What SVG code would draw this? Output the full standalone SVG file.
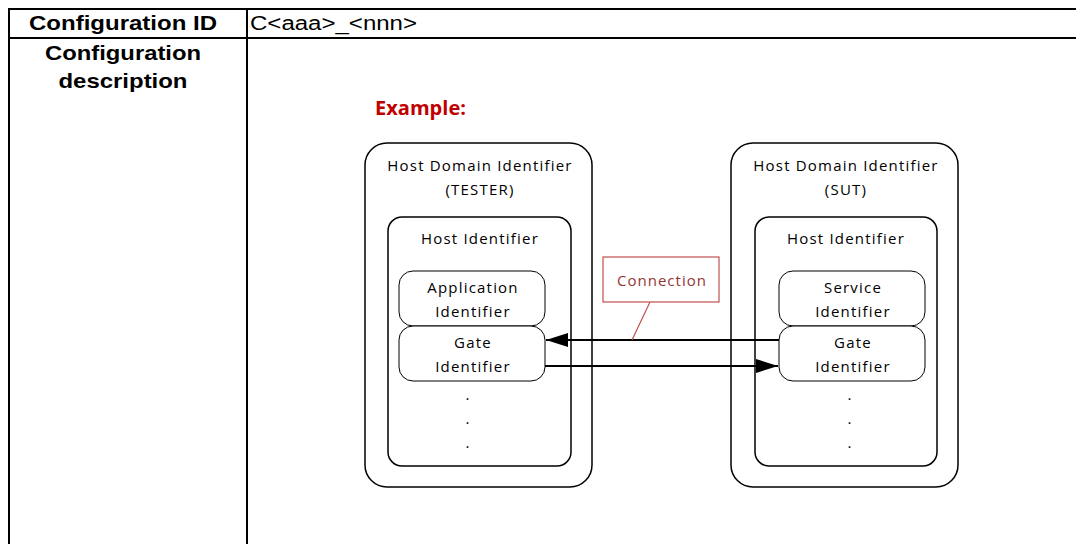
<svg xmlns="http://www.w3.org/2000/svg" width="1076" height="544" viewBox="0 0 1076 544">
<style>
.tbl{stroke:#000;stroke-width:2;fill:none}
.th{font-family:"Liberation Sans",Arial,sans-serif;font-weight:bold;font-size:21px;fill:#000;text-anchor:middle}
.td{font-family:"Liberation Sans",Arial,sans-serif;font-size:20px;fill:#000}
.box{fill:#fff;stroke:#000;stroke-width:1.5}
.sbox{fill:#fff;stroke:#000;stroke-width:1}
.lbl{font-family:"Open Sans","Liberation Sans",sans-serif;font-size:15px;fill:#000;text-anchor:middle;letter-spacing:1.2px}
.conn{stroke:#000;stroke-width:2;fill:none}
</style>
<defs>
<marker id="ah2" markerWidth="22" markerHeight="14" refX="22" refY="7" orient="auto" markerUnits="userSpaceOnUse" viewBox="0 0 22 14">
<path d="M0,0 L22,7 L0,14 Z" fill="#000"/>
</marker>
</defs>
<rect width="1076" height="544" fill="#fff"/>
<g id="table">
<line class="tbl" x1="8" y1="9" x2="1076" y2="9"/>
<line class="tbl" x1="8" y1="38" x2="1076" y2="38"/>
<line class="tbl" x1="9" y1="8" x2="9" y2="544"/>
<line class="tbl" x1="247" y1="8" x2="247" y2="544"/>
<text class="th" x="123" y="30" textLength="188" lengthAdjust="spacingAndGlyphs">Configuration ID</text>
<text class="td" x="250" y="30" textLength="167" lengthAdjust="spacingAndGlyphs">C&lt;aaa&gt;_&lt;nnn&gt;</text>
<text class="th" x="123" y="60" textLength="156" lengthAdjust="spacingAndGlyphs">Configuration</text>
<text class="th" x="123" y="88" textLength="129" lengthAdjust="spacingAndGlyphs">description</text>
</g>
<text x="375" y="115" font-family="Open Sans,Liberation Sans,sans-serif" font-weight="bold" font-size="19" fill="#c00000" textLength="91" lengthAdjust="spacingAndGlyphs">Example:</text>
<g id="tester-domain">
<rect class="box" x="365" y="143" width="227" height="344" rx="22"/>
<text class="lbl" x="480" y="171">Host Domain Identifier</text>
<text class="lbl" x="480" y="195">(TESTER)</text>
</g>
<g id="tester-host">
<rect class="box" x="388" y="217" width="183" height="249" rx="14"/>
<text class="lbl" x="480" y="244">Host Identifier</text>
<text class="lbl" x="468" y="400">.</text>
<text class="lbl" x="468" y="424">.</text>
<text class="lbl" x="468" y="448">.</text>
</g>
<g id="tester-app">
<rect class="sbox" x="399" y="271" width="146" height="55" rx="14"/>
<text class="lbl" x="473" y="293">Application</text>
<text class="lbl" x="473" y="317">Identifier</text>
</g>
<g id="tester-gate">
<rect class="sbox" x="399" y="326" width="146" height="55" rx="14"/>
<text class="lbl" x="473" y="348">Gate</text>
<text class="lbl" x="473" y="372">Identifier</text>
</g>
<g id="sut-domain">
<rect class="box" x="731" y="143" width="227" height="344" rx="22"/>
<text class="lbl" x="846" y="171">Host Domain Identifier</text>
<text class="lbl" x="846" y="195">(SUT)</text>
</g>
<g id="sut-host">
<rect class="box" x="755" y="217" width="182" height="249" rx="14"/>
<text class="lbl" x="846" y="244">Host Identifier</text>
<text class="lbl" x="850" y="400">.</text>
<text class="lbl" x="850" y="424">.</text>
<text class="lbl" x="850" y="448">.</text>
</g>
<g id="sut-service">
<rect class="sbox" x="779" y="271" width="146" height="55" rx="14"/>
<text class="lbl" x="853" y="293">Service</text>
<text class="lbl" x="853" y="317">Identifier</text>
</g>
<g id="sut-gate">
<rect class="sbox" x="779" y="326" width="146" height="55" rx="14"/>
<text class="lbl" x="853" y="348">Gate</text>
<text class="lbl" x="853" y="372">Identifier</text>
</g>
<g id="connectors">
<line class="conn" x1="779" y1="340" x2="546" y2="340" marker-end="url(#ah2)"/>
<line class="conn" x1="545" y1="366" x2="778" y2="366" marker-end="url(#ah2)"/>
</g>
<g id="connection-label">
<line x1="650" y1="302" x2="632" y2="340" stroke="#c0504d" stroke-width="1.2"/>
<rect x="603" y="257" width="116" height="45" fill="#fff" stroke="#c0504d" stroke-width="1.2"/>
<text x="662" y="286" font-family="Open Sans,Liberation Sans,sans-serif" font-size="15" fill="#943634" text-anchor="middle" letter-spacing="1">Connection</text>
</g>
</svg>
